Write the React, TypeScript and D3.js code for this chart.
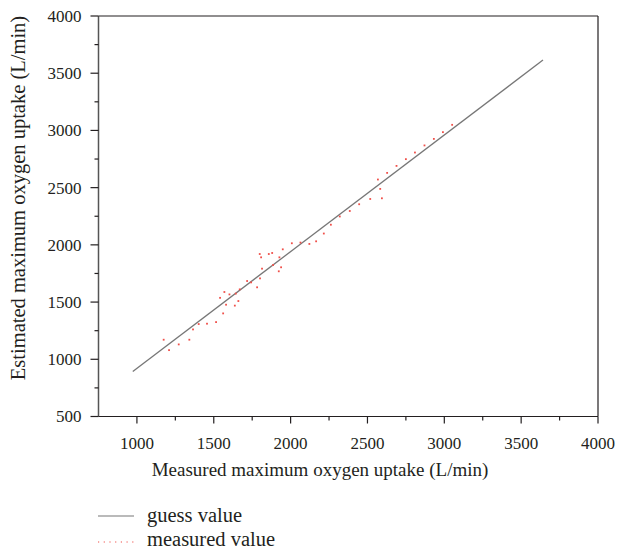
import React from "react";
import * as d3 from "d3";

const measuredX = [1174, 1209, 1272, 1341, 1365, 1402, 1456, 1515, 1561, 1541, 1569, 1580, 1602, 1637, 1643, 1660, 1669, 1717, 1743, 1782, 1801, 1799, 1808, 1814, 1858, 1880, 1886, 1923, 1927, 1938, 1949, 2008, 2064, 2122, 2166, 2216, 2262, 2320, 2385, 2446, 2518, 2568, 2583, 2594, 2628, 2689, 2750, 2809, 2871, 2932, 2991, 3051];
const measuredY = [1171, 1080, 1130, 1171, 1261, 1308, 1311, 1325, 1401, 1537, 1588, 1477, 1567, 1469, 1574, 1509, 1611, 1684, 1672, 1629, 1707, 1920, 1891, 1792, 1920, 1929, 1824, 1769, 1891, 1804, 1961, 2014, 2020, 2008, 2031, 2099, 2176, 2248, 2296, 2355, 2401, 2571, 2489, 2407, 2629, 2690, 2749, 2807, 2869, 2926, 2985, 3049];
const guessX = [973, 3642];
const guessY = [894, 3615];
const xTicks = [1000, 1500, 2000, 2500, 3000, 3500, 4000];
const yTicks = [500, 1000, 1500, 2000, 2500, 3000, 3500, 4000];
const xMinor = [1250, 1750, 2250, 2750, 3250, 3750];
const yMinor = [750, 1250, 1750, 2250, 2750, 3250, 3750];
const xDomain = [750, 4000];
const yDomain = [500, 4000];
const xTitle = "Measured maximum oxygen uptake (L/min)";
const yTitle = "Estimated maximum oxygen uptake (L/min)";
const legendLabels = ["guess value", "measured value"];

export default function App() {
  const W = 619, H = 556;
  const x = d3.scaleLinear().domain(xDomain).range([98.5, 598]);
  const y = d3.scaleLinear().domain(yDomain).range([416.5, 16]);
  const font = "'Liberation Serif', 'Times New Roman', serif";
  const ink = "#231f20";
  const line = d3.line<number>().x((_, i) => x(guessX[i])).y((_, i) => y(guessY[i]));
  const x0 = x(xDomain[0]), x1 = x(xDomain[1]);
  const y0 = y(yDomain[0]), y1 = y(yDomain[1]);
  return (
    <svg width={W} height={H} style={{ position: "absolute", left: 0, top: 0, background: "#fff" }}>
      <rect x={0} y={0} width={W} height={H} fill="#fff" />
      {/* frame */}
      <line x1={x0} x2={x1} y1={y1} y2={y1} stroke={ink} strokeWidth={1.2} />
      <line x1={x1} x2={x1} y1={y1} y2={y0} stroke={ink} strokeWidth={1.2} />
      <line x1={x0} x2={x0} y1={y1} y2={y0} stroke="#555" strokeWidth={1.5} />
      <line x1={x0} x2={x1} y1={y0} y2={y0} stroke={ink} strokeWidth={1.2} />
      {/* y ticks */}
      {yTicks.map((t) => (
        <g key={"y" + t}>
          <line x1={x0 - 8} x2={x0} y1={y(t)} y2={y(t)} stroke={ink} strokeWidth={1.2} />
          <text x={81.5} y={y(t)} dy="0.35em" textAnchor="end" fontFamily={font} fontSize={17} fill={ink}>{t}</text>
        </g>
      ))}
      {yMinor.map((t) => (
        <line key={"ym" + t} x1={x0 - 4} x2={x0} y1={y(t)} y2={y(t)} stroke={ink} strokeWidth={1.2} />
      ))}
      {/* x ticks */}
      {xTicks.map((t) => (
        <g key={"x" + t}>
          <line x1={x(t)} x2={x(t)} y1={y0} y2={y0 + 7} stroke={ink} strokeWidth={1.2} />
          <text x={x(t)} y={449} textAnchor="middle" fontFamily={font} fontSize={17} fill={ink}>{t}</text>
        </g>
      ))}
      {xMinor.map((t) => (
        <line key={"xm" + t} x1={x(t)} x2={x(t)} y1={y0} y2={y0 + 4} stroke={ink} strokeWidth={1.2} />
      ))}
      {/* guess line */}
      <path d={line(guessX) || ""} fill="none" stroke="#777" strokeWidth={1.3} />
      {/* measured points */}
      {measuredX.map((v, i) => (
        <rect key={"p" + i} x={x(v) - 0.9} y={y(measuredY[i]) - 0.9} width={1.8} height={1.8} fill="#f0504a" />
      ))}
      {/* titles */}
      <text x={320} y={476} textAnchor="middle" fontFamily={font} fontSize={19} fill={ink}>{xTitle}</text>
      <text transform={`translate(25, 198) rotate(-90)`} textAnchor="middle" fontFamily={font} fontSize={20.5} fill={ink}>{yTitle}</text>
      {/* legend */}
      <line x1={98} x2={134} y1={516} y2={516} stroke="#777" strokeWidth={1.2} />
      <text x={147} y={522} fontFamily={font} fontSize={20.5} fill={ink}>{legendLabels[0]}</text>
      <line x1={98} x2={134} y1={542} y2={542} stroke="#f0504a" strokeWidth={1.2} strokeDasharray="1.2,4.5" />
      <text x={147} y={546} fontFamily={font} fontSize={20.5} fill={ink}>{legendLabels[1]}</text>
    </svg>
  );
}
